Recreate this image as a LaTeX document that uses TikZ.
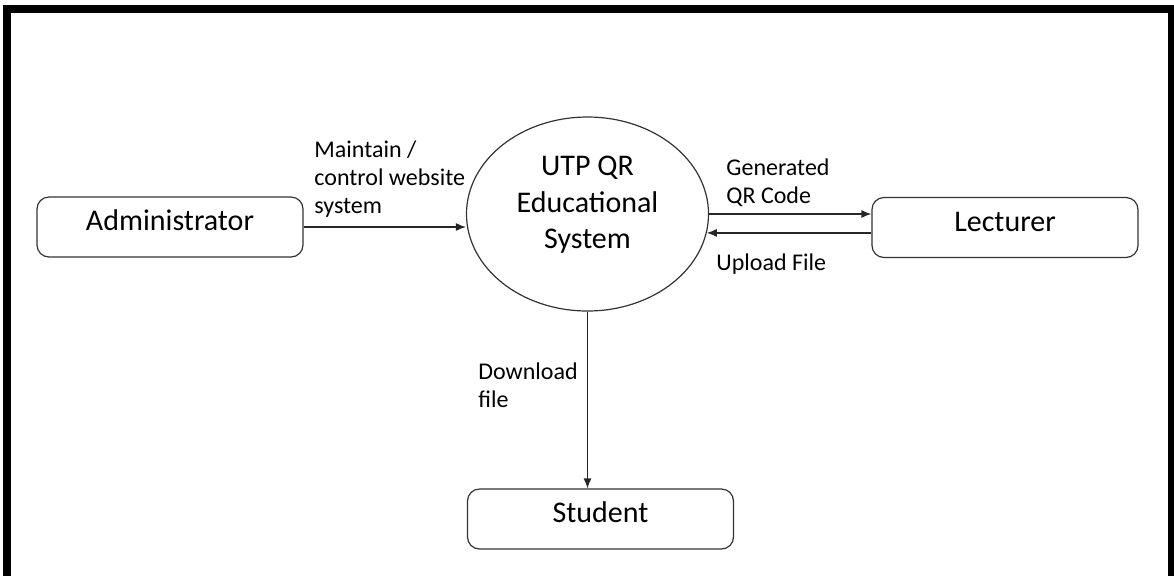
\documentclass[tikz,border=0pt]{standalone}
\usepackage{fontspec}
\setmainfont{Carlito}
\usetikzlibrary{positioning, shapes.geometric, arrows.meta}
\tikzset{
  >={Latex[length=5pt,width=4pt]},
  x=0.5pt, y=-0.5pt,
  entity/.style={draw=black!80, line width=0.6pt, rounded corners=6pt,
    minimum width=133pt, minimum height=30pt, text height=10pt, text depth=6.4pt,
    font=\fontsize{15}{18}\selectfont},
  process/.style={draw=black!80, line width=0.6pt, ellipse, inner sep=0pt,
    minimum width=121pt, minimum height=97pt, align=center,
    text height=48pt, text depth=13.5pt,
    font=\fontsize{15}{18.25}\selectfont},
  flowtext/.style={inner sep=0pt, anchor=west, align=left,
    font=\fontsize{12}{14.2}\selectfont},
  flow/.style={->, draw=black!85, line width=0.6pt},
}

\begin{document}
\begin{tikzpicture}
		\useasboundingbox (0,0) rectangle (1174,575);
		% frame round the page
		\draw[line width=4pt] (7,580) -- (7,9) -- (1172,9) -- (1172,580);

		% process and external entities
		\node[process] (sys) at (587.5,214) {UTP QR\\Educational\\System};
		\node[entity] (admin) at (170,227) {Administrator};
		\node[entity] (lect) at (1005,227.5) {Lecturer};
		\node[entity] (stud) at (600.5,519) {Student};

		% data flows
		\draw[flow] (admin.east) -- (admin.east -| sys.west);
		\draw[flow] (sys.east) -- (sys.east -| lect.west);
		\draw[flow] (sys.-9 -| lect.west) -- (sys.-9);
		\draw[flow] (sys.south) -- (sys.south |- stud.north);

		% flow labels
		\node[flowtext] (maintain) at (314,179) {Maintain /\\control website\\system};
		\node[flowtext] (generated) at (726,182.5) {Generated\\QR Code};
		\node[flowtext] (upload) at (716,264.5) {Upload File};
		\node[flowtext] (download) at (478,385.5) {Download\\file};
	\end{tikzpicture}
\end{document}
